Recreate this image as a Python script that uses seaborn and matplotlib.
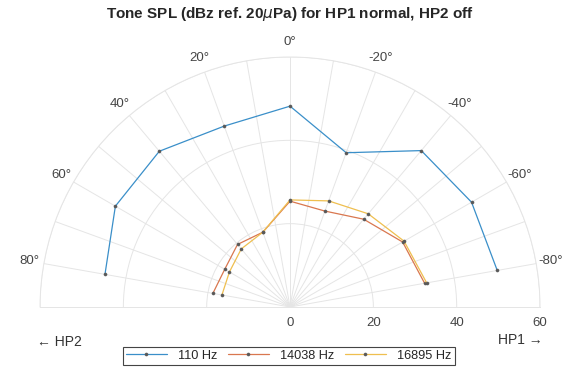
import numpy as np
import pandas as pd
import matplotlib
matplotlib.use("Agg")
import matplotlib.pyplot as plt
import seaborn as sns

sns.set_style("white")
plt.rcParams['font.family'] = ['Liberation Sans', 'DejaVu Sans']

# measurement angles (deg, 0 = straight ahead, + towards HP2)
angles = [-80, -60, -40, -20, 0, 20, 40, 60, 80]
spl_110 = [50.5, 50.3, 49.0, 39.4, 48.2, 46.2, 48.8, 48.4, 45.1]
spl_14038 = [32.8, 31.2, 27.5, 24.5, 25.4, 19.1, 19.6, 18.1, 18.8]
spl_16895 = [33.3, 31.6, 29.2, 27.1, 25.7, 19.1, 18.2, 16.8, 16.6]
freqs = ["110 Hz", "14038 Hz", "16895 Hz"]
colors = ["#3a8fc9", "#d9774f", "#efbf4f"]

theta_ticks = list(range(-90, 91, 10))
theta_labels = [f"{t}\u00b0" if t % 20 == 0 and abs(t) < 90 else "" for t in theta_ticks]
r_ticks = [0, 20, 40, 60]

df = pd.DataFrame({
    "theta": np.deg2rad(angles * 3),
    "spl": spl_110 + spl_14038 + spl_16895,
    "freq": [f for f in freqs for _ in angles],
})

fig = plt.figure(figsize=(5.75, 3.68), dpi=100)
# square box; the half-disc sits in its middle half
ax = fig.add_axes([0.0696, -0.1739, 0.8696, 1.3587], projection="polar")
ax.set_theta_zero_location("N")
ax.set_theta_direction(1)
ax.set_thetamin(-90)
ax.set_thetamax(90)

sns.lineplot(data=df, x="theta", y="spl", hue="freq", hue_order=freqs,
             palette=dict(zip(freqs, colors)), marker="o", markersize=2.2,
             markeredgecolor="0.35", markerfacecolor="0.35", markeredgewidth=0.4,
             linewidth=0.9, legend=False, ax=ax)

ax.set_rlim(0, 60)
ax.set_rticks(r_ticks)
ax.set_thetagrids(theta_ticks, theta_labels)
ax.set_xlabel("")
ax.set_ylabel("")
ax.grid(True, color="#e5e5e5", linewidth=0.7)
for sp in ax.spines.values():
    sp.set_color("#e5e5e5")
    sp.set_linewidth(0.7)
ax.tick_params(axis="x", labelsize=9.5, labelcolor="#454545", pad=0)
ax.tick_params(axis="y", labelsize=9.5, labelcolor="#454545")

fig.text(0.504, 0.962, r"Tone SPL (dBz ref. 20$\mu$Pa) for HP1 normal, HP2 off",
         ha="center", va="center", fontsize=11, weight="bold", color="#262626")
fig.text(0.064, 0.07, "\u2190 HP2", ha="left", va="center", fontsize=10, color="#333333")
fig.text(0.944, 0.075, "HP1 \u2192", ha="right", va="center", fontsize=10, color="#333333")

leg = fig.legend(ax.get_lines(), freqs, loc="center", bbox_to_anchor=(0.502, 0.033),
                 ncol=3, fontsize=9.2, handlelength=3.2, handletextpad=0.9,
                 columnspacing=0.8, borderpad=0.25, fancybox=False, framealpha=1)
leg.get_frame().set_edgecolor("#444444")
leg.get_frame().set_linewidth(0.8)

fig.savefig("out.png", dpi=100)
